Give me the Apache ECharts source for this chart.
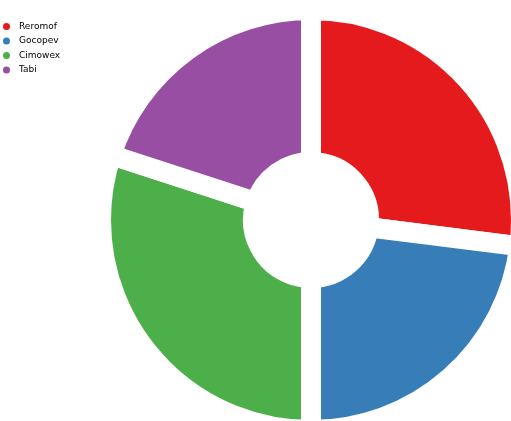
<!DOCTYPE html>
<html><head><meta charset="utf-8">
<script src="https://cdn.jsdelivr.net/npm/echarts@6/dist/echarts.min.js"></script>
<style>html,body{margin:0;padding:0;background:#fff}#c{width:511px;height:421px}</style>
</head><body><div id="c"></div>
<script>
const categories = ['Reromof', 'Gocopev', 'Cimowex', 'Tabi'];
const values = [27.0, 23.0, 30.0, 20.0];
const colors = ['#e41a1c', '#377eb8', '#4daf4a', '#984ea3'];

const chart = echarts.init(document.getElementById('c'));
chart.setOption({
  animation: false,
  legend: {
    orient: 'vertical', left: 1, top: 21, padding: 0,
    itemWidth: 9, itemHeight: 9, itemGap: 3.5, icon: 'circle',
    textStyle: { fontSize: 9, color: '#000', fontFamily: 'DejaVu Sans', padding: [0, 0, 0, 3] },
    data: categories
  },
  series: [{
    type: 'pie',
    center: [311, 220],
    radius: [58, 210],
    startAngle: 90,
    clockwise: true,
    label: { show: false },
    labelLine: { show: false },
    itemStyle: { borderColor: '#fff', borderWidth: 20 },
    data: categories.map((n, i) => ({ name: n, value: values[i], itemStyle: { color: colors[i] } }))
  }]
});
</script></body></html>
